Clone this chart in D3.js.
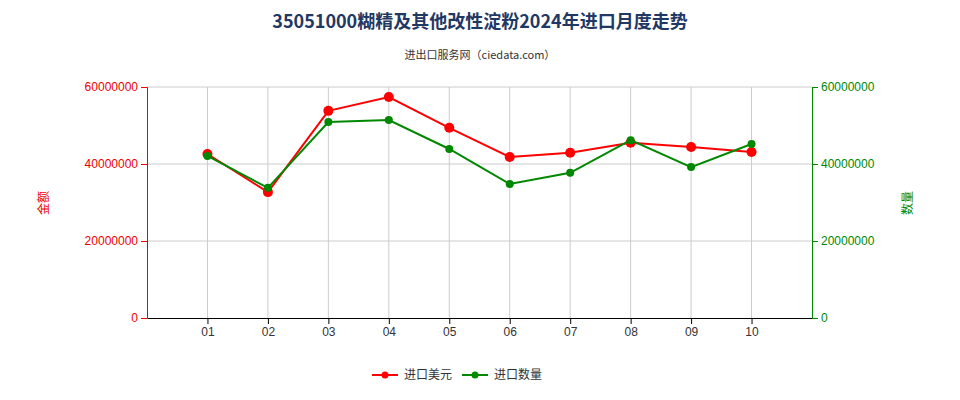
<!DOCTYPE html>
<html><head><meta charset="utf-8">
<script src="https://cdn.jsdelivr.net/npm/d3@7"></script>
<style>body{margin:0;background:#fff;font-family:"Noto Sans CJK SC","Noto Sans",sans-serif}</style>
</head><body>
<svg id="chart" width="960" height="400"></svg>
<script>
const months = ["01","02","03","04","05","06","07","08","09","10"];
const valueUSD = [42600000,32700000,53800000,57400000,49400000,41800000,42900000,45500000,44400000,43100000];
const quantity = [42100000,33800000,50900000,51400000,43900000,34800000,37700000,46200000,39200000,45200000];
const yTicks = [0,20000000,40000000,60000000];

const svg = d3.select("#chart");
const mLeft = 147, mRight = 812, mTop = 87, mBottom = 318;

const x = d3.scaleLinear().domain([0, 11]).range([mLeft, mRight]);
const y = d3.scaleLinear().domain([0, 60000000]).range([mBottom, mTop]);

svg.append("text").attr("x", 480).attr("y", 28).attr("text-anchor", "middle")
    .attr("font-size", 18).attr("font-weight", "bold").attr("fill", "#1f3864")
    .text("35051000糊精及其他改性淀粉2024年进口月度走势");
svg.append("text").attr("x", 480).attr("y", 59).attr("text-anchor", "middle")
    .attr("font-size", 11).attr("fill", "#333").text("进出口服务网（ciedata.com）");

// grid
svg.append("g").selectAll("line").data(months).join("line")
    .attr("x1", (d, i) => x(i + 1)).attr("x2", (d, i) => x(i + 1))
    .attr("y1", mTop).attr("y2", mBottom).attr("stroke", "#ccc");
svg.append("g").selectAll("line").data(yTicks.slice(1)).join("line")
    .attr("x1", mLeft).attr("x2", mRight).attr("y1", d => y(d)).attr("y2", d => y(d))
    .attr("stroke", "#ccc");

// axes
svg.append("g").attr("transform", `translate(0,${mBottom})`)
    .call(d3.axisBottom(x).tickValues(d3.range(1, 11)).tickFormat(i => months[i - 1]).tickSizeOuter(0))
    .call(g => g.selectAll("text").attr("font-size", 12).attr("fill", "#333"));
svg.append("g").attr("transform", `translate(${mLeft},0)`)
    .call(d3.axisLeft(y).tickValues(yTicks).tickFormat(d3.format("d")))
    .call(g => g.selectAll("text").attr("font-size", 12).attr("fill", "#e00"))
    .call(g => g.selectAll("path,line").attr("stroke", "#e00"));
svg.append("g").attr("transform", `translate(${mRight},0)`)
    .call(d3.axisRight(y).tickValues(yTicks).tickFormat(d3.format("d")))
    .call(g => g.selectAll("text").attr("font-size", 12).attr("fill", "#080"))
    .call(g => g.selectAll("path,line").attr("stroke", "#080"));

svg.append("text").attr("transform", "translate(48,203) rotate(-90)").attr("text-anchor", "middle")
    .attr("font-size", 12).attr("fill", "#e00").text("金额");
svg.append("text").attr("transform", "translate(912,203) rotate(-90)").attr("text-anchor", "middle")
    .attr("font-size", 12).attr("fill", "#080").text("数量");

function series(data, color, r) {
    svg.append("path").datum(data)
        .attr("d", d3.line().x((d, i) => x(i + 1)).y(d => y(d)))
        .attr("fill", "none").attr("stroke", color).attr("stroke-width", 2);
    svg.append("g").selectAll("circle").data(data).join("circle")
        .attr("cx", (d, i) => x(i + 1)).attr("cy", d => y(d)).attr("r", r).attr("fill", color);
}
series(valueUSD, "#f00", 5);
series(quantity, "#080", 4);

// legend
const legend = [["进口美元", "#f00", 402], ["进口数量", "#080", 492]];
legend.forEach(([t, c, lx]) => {
    svg.append("line").attr("x1", lx - 30).attr("x2", lx - 4).attr("y1", 375).attr("y2", 375)
        .attr("stroke", c).attr("stroke-width", 2);
    svg.append("circle").attr("cx", lx - 17).attr("cy", 375).attr("r", 3.5).attr("fill", c);
    svg.append("text").attr("x", lx + 2).attr("y", 379).attr("font-size", 12).attr("fill", "#333").text(t);
});
</script>
</body></html>
